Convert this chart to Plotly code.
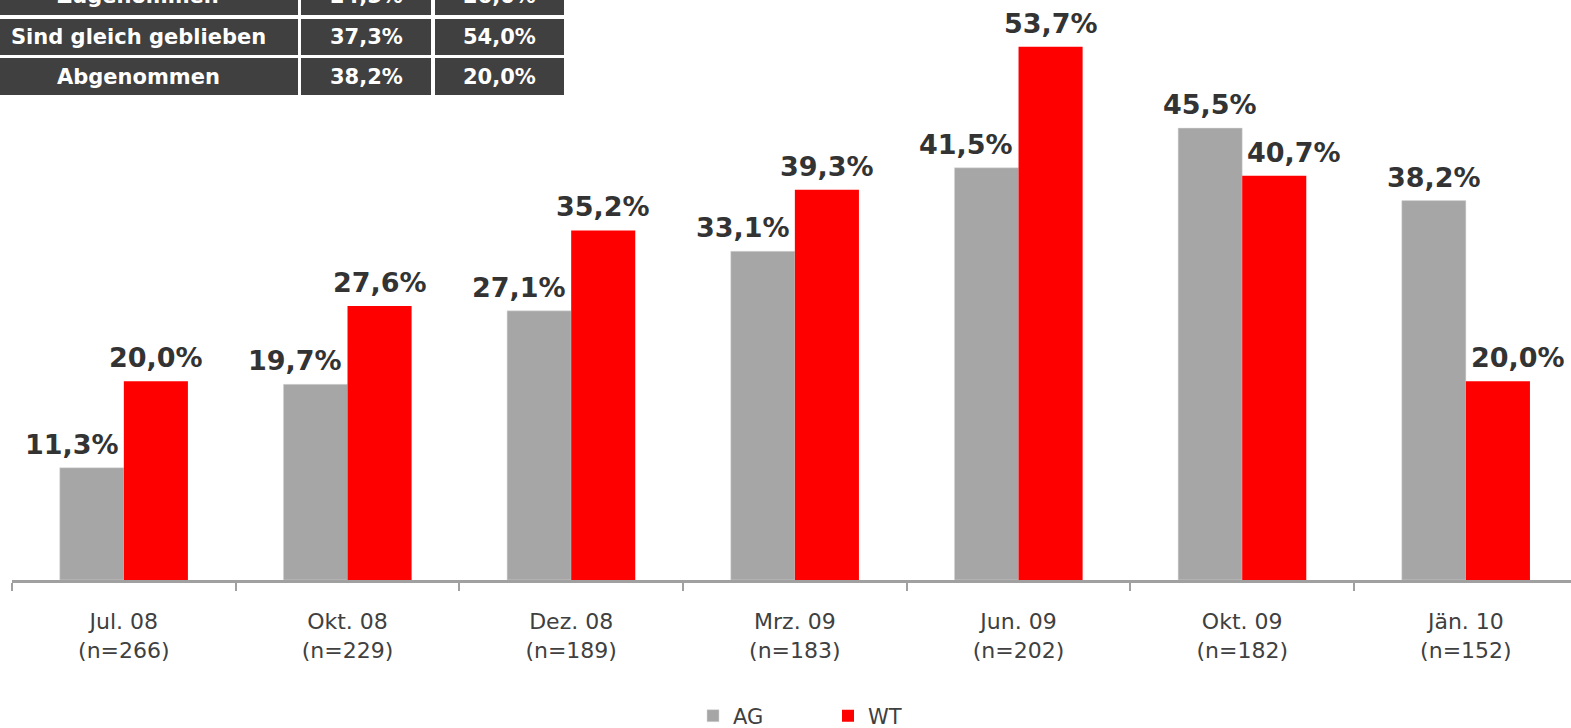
import plotly.graph_objects as go

categories = ["Jul. 08<br>(n=266)", "Okt. 08<br>(n=229)", "Dez. 08<br>(n=189)",
              "Mrz. 09<br>(n=183)", "Jun. 09<br>(n=202)", "Okt. 09<br>(n=182)",
              "Jän. 10<br>(n=152)"]
ag_values = [11.3, 19.7, 27.1, 33.1, 41.5, 45.5, 38.2]
wt_values = [20.0, 27.6, 35.2, 39.3, 53.7, 40.7, 20.0]

table_labels = ["Zugenommen", "Sind gleich geblieben", "Abgenommen"]
table_ag = ["24,5%", "37,3%", "38,2%"]
table_wt = ["26,0%", "54,0%", "20,0%"]


def fmt(v):
    return "<b>" + f"{v:.1f}".replace(".", ",") + "%</b>"


FONT = "DejaVu Sans"
W, H = 1571, 728
L, R, T, B = 12, 0, 0, 148
PW = W - L - R
PH = H - T - B
BARGAP = 0.427
XMAX = 6.47

fig = go.Figure()
fig.add_trace(go.Bar(
    name="AG", x=categories, y=ag_values, marker_color="#a6a6a6",
    marker_line_color="#d9d9d9", marker_line_width=0.5,
))
fig.add_trace(go.Bar(
    name="WT", x=categories, y=wt_values, marker_color="#ff0000",
    marker_line_width=0,
))

# Value labels: centred above each bar; the label of the shorter bar in a
# pair is nudged outward so the two labels do not collide.
half = (1 - BARGAP) / 4  # offset of each bar centre from the category centre
for i, (a, w) in enumerate(zip(ag_values, wt_values)):
    shift_a = -20 if a < w else 0
    shift_w = 20 if w < a else 0
    for v, dx, sh in ((a, -half, shift_a), (w, half, shift_w)):
        fig.add_annotation(x=i + dx, y=v, xref="x", yref="y", text=fmt(v),
                           showarrow=False, xanchor="center", yanchor="bottom",
                           xshift=sh, yshift=6,
                           font=dict(family=FONT, size=27, color="#333333"))


def px_x(px):
    return (px - L) / PW


def px_y(py):
    return (H - B - py) / PH


# Table drawn with shapes + annotations
cols = [(-30, 298), (301, 431), (435, 564)]
text_x = [138, 366, 499]
rows = [(-22, 15), (19, 55), (58, 95)]
for ri, (y0, y1) in enumerate(rows):
    texts = [table_labels[ri], table_ag[ri], table_wt[ri]]
    for ci, (x0, x1) in enumerate(cols):
        fig.add_shape(type="rect", xref="paper", yref="paper",
                      x0=px_x(x0), x1=px_x(x1), y0=px_y(y1), y1=px_y(y0),
                      fillcolor="#404040", line_width=0, layer="above")
        fig.add_annotation(xref="paper", yref="paper",
                           x=px_x(text_x[ci]), y=px_y((y0 + y1) / 2),
                           text=f"<b>{texts[ci]}</b>", showarrow=False,
                           xanchor="center", yanchor="middle",
                           font=dict(family=FONT, size=21, color="white"))

fig.update_layout(
    width=W, height=H,
    margin=dict(l=L, r=R, t=T, b=B, pad=0, autoexpand=False),
    plot_bgcolor="white", paper_bgcolor="white",
    barmode="group", bargap=BARGAP, bargroupgap=0,
    font=dict(family=FONT, size=22, color="#404040"),
    showlegend=True,
    legend=dict(orientation="h", x=px_x(828), xanchor="center", y=px_y(716),
                yanchor="middle", font=dict(family=FONT, size=21, color="#404040"),
                entrywidth=90, entrywidthmode="pixels", itemwidth=30),
    xaxis=dict(range=[-0.5, XMAX], showline=True, linecolor="#a0a0a0",
               linewidth=3, ticks="outside", tickson="boundaries", ticklen=8,
               tickcolor="#a0a0a0", tickwidth=2, showgrid=False,
               ticklabelstandoff=20,
               tickfont=dict(family=FONT, size=22, color="#404040")),
    yaxis=dict(range=[0, 58.4], visible=False, showgrid=False, zeroline=False),
)

fig.write_html("out.html", config={"displayModeBar": False},
               post_script="document.body.style.margin='0';document.body.style.overflow='hidden';")
